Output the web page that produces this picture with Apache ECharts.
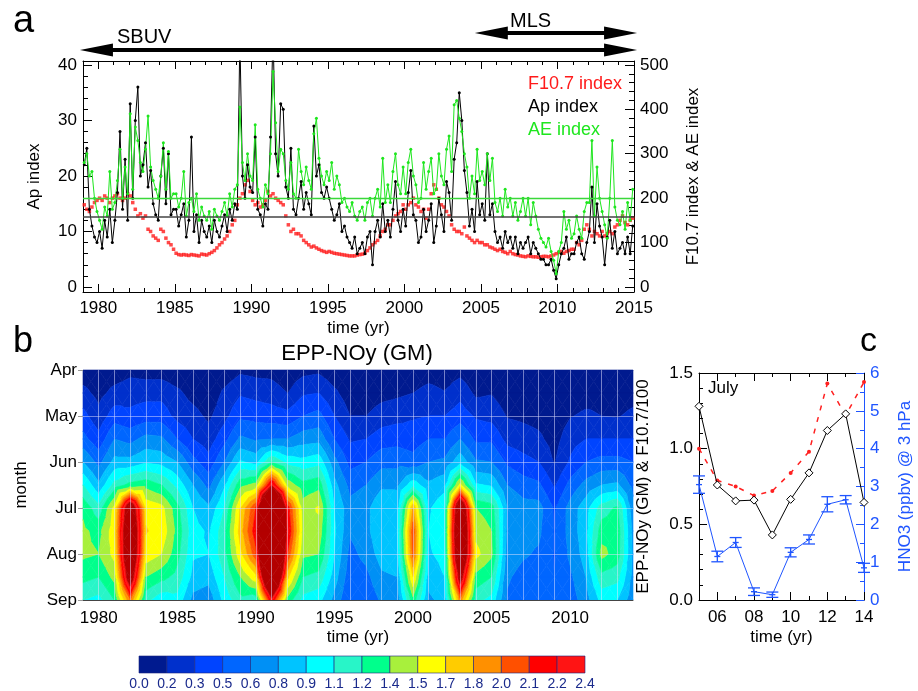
<!DOCTYPE html>
<html>
<head>
<meta charset="utf-8">
<script src="https://cdn.jsdelivr.net/npm/echarts@6/dist/echarts.min.js"></script>
<style>
  html, body { margin: 0; padding: 0; background: #fff; }
  #chart { width: 918px; height: 691px; }
</style>
</head>
<body>
<div id="chart"></div>
<script>
var FONT = 'Liberation Sans';
var INK = '#000';
var BLUE = '#1f55ff';

// ---- panel a : solar / geomagnetic indices, 6 values per year ----
var years = [1979, 1980, 1981, 1982, 1983, 1984, 1985, 1986, 1987, 1988, 1989, 1990,
  1991, 1992, 1993, 1994, 1995, 1996, 1997, 1998, 1999, 2000, 2001, 2002,
  2003, 2004, 2005, 2006, 2007, 2008, 2009, 2010, 2011, 2012, 2013, 2014];

var apIndex = [
  [22, 25, 14, 11, 9, 8], [10, 7, 12, 9, 14, 8], [12, 17, 28, 14, 23, 12], [33, 16, 30, 36, 20, 22],
  [26, 18, 21, 15, 13, 12], [20, 25, 15, 24, 13, 14], [14, 11, 13, 15, 9, 12], [27, 10, 13, 8, 12, 10],
  [9, 11, 8, 12, 10, 9], [11, 13, 10, 14, 12, 15], [14, 45, 20, 16, 22, 18], [17, 27, 14, 13, 11, 15],
  [14, 27, 46, 24, 20, 33], [32, 18, 16, 25, 14, 13], [16, 19, 14, 17, 15, 13], [29, 20, 22, 17, 16, 18],
  [16, 14, 12, 13, 15, 10], [11, 9, 8, 7, 9, 6], [7, 8, 6, 9, 10, 4], [10, 12, 9, 15, 10, 12],
  [9, 14, 19, 12, 10, 14], [11, 17, 21, 13, 12, 8], [9, 14, 10, 12, 15, 8], [11, 16, 13, 10, 19, 17],
  [12, 23, 26, 35, 30, 21], [17, 11, 14, 10, 19, 13], [15, 12, 24, 13, 15, 10], [8, 9, 7, 10, 8, 9],
  [7, 9, 6, 8, 7, 8], [9, 6, 8, 7, 6, 5], [5, 4, 4, 5, 3, 1.5], [4, 6, 7, 9, 5, 6],
  [6, 8, 9, 6, 5, 8], [10, 18, 8, 15, 11, 9], [4, 9, 12, 7, 10, 6], [7, 8, 6, 9, 6, 11]
];

var aeIndex = [
  [280, 300, 250, 260, 200, 170], [150, 130, 180, 160, 260, 175], [190, 240, 310, 200, 270, 210], [390, 220, 360, 330, 280, 260],
  [310, 385, 270, 240, 220, 200], [250, 325, 220, 305, 200, 210], [210, 180, 200, 260, 160, 190], [200, 170, 210, 150, 180, 160],
  [150, 170, 130, 175, 160, 150], [170, 190, 160, 210, 180, 220], [230, 405, 280, 240, 300, 250], [240, 365, 220, 200, 180, 230],
  [210, 300, 485, 370, 260, 310], [300, 240, 220, 280, 210, 200], [310, 260, 230, 270, 240, 220], [345, 380, 290, 250, 230, 260],
  [240, 280, 220, 250, 230, 190], [200, 180, 170, 190, 160, 150], [170, 180, 150, 190, 200, 160], [200, 220, 180, 290, 190, 230],
  [190, 260, 300, 230, 210, 270], [210, 280, 310, 250, 230, 190], [200, 280, 220, 260, 290, 210], [220, 300, 250, 230, 310, 340],
  [260, 410, 420, 380, 350, 300], [270, 200, 250, 210, 310, 240], [260, 230, 300, 240, 290, 190], [170, 200, 160, 220, 180, 200],
  [160, 190, 150, 170, 200, 160], [200, 140, 190, 160, 130, 110], [100, 90, 110, 80, 60, 30], [80, 100, 170, 130, 150, 110],
  [120, 160, 130, 110, 170, 190], [190, 330, 160, 270, 200, 170], [140, 110, 200, 330, 180, 150], [140, 170, 130, 190, 150, 220]
];

var f107Index = [
  [185, 175, 170, 180, 190, 195], [200, 195, 205, 200, 190, 200], [205, 210, 200, 195, 200, 210], [205, 190, 175, 160, 165, 155],
  [160, 130, 125, 115, 110, 105], [130, 125, 110, 100, 95, 85], [76, 73, 72, 73, 72, 71], [73, 72, 71, 70, 74, 73],
  [72, 75, 78, 82, 88, 95], [100, 108, 115, 125, 140, 150], [185, 200, 210, 230, 240, 215], [195, 185, 190, 180, 185, 195],
  [215, 205, 210, 200, 195, 190], [185, 160, 140, 125, 130, 120], [120, 115, 105, 100, 95, 90], [92, 88, 85, 82, 80, 78],
  [80, 78, 76, 75, 74, 73], [72, 71, 70, 70, 70, 72], [73, 74, 76, 82, 88, 95], [100, 105, 115, 125, 130, 140],
  [140, 150, 160, 165, 170, 185], [175, 185, 190, 200, 185, 180], [170, 175, 155, 175, 210, 230], [220, 200, 185, 180, 170, 160],
  [140, 130, 125, 125, 120, 135], [115, 110, 105, 100, 105, 100], [100, 95, 95, 90, 88, 85], [82, 85, 80, 78, 75, 80],
  [75, 73, 72, 70, 69, 68], [70, 69, 68, 68, 67, 68], [69, 69, 68, 70, 72, 75], [78, 80, 76, 80, 82, 85],
  [85, 100, 95, 105, 130, 140], [130, 115, 125, 120, 115, 125], [115, 120, 125, 120, 135, 140], [150, 160, 145, 140, 150, 155]
];

var apMean = 12.6;
var aeMean = 200;
var sbuvSpan = [1978.8, 2015.2];
var mlsSpan = [2004.6, 2015.2];

// ---- panel b : EPP-NOy, one row per year, Apr..Sep every half month ----
var monthPos = [4, 4.5, 5, 5.5, 6, 6.5, 7, 7.5, 8, 8.5, 9];
var monthNames = ['Apr', 'May', 'Jun', 'Jul', 'Aug', 'Sep'];
var eppGrid = [
  [0.05, 0.2, 0.35, 0.5, 0.75, 1.05, 1.32, 1.38, 1.38, 1.25, 1.05],
  [0.03, 0.1, 0.2, 0.35, 0.55, 0.78, 1.1, 1.3, 1.35, 1.2, 1.0],
  [0.05, 0.2, 0.38, 0.6, 0.8, 1.1, 1.55, 1.6, 1.55, 1.4, 1.2],
  [0.1, 0.25, 0.33, 0.55, 0.8, 1.25, 2.8, 3.0, 3.0, 2.7, 1.95],
  [0.08, 0.25, 0.38, 0.65, 0.88, 1.3, 1.62, 1.66, 1.6, 1.35, 1.1],
  [0.08, 0.25, 0.38, 0.63, 0.85, 1.2, 1.55, 1.6, 1.5, 1.25, 0.95],
  [0.05, 0.18, 0.25, 0.45, 0.75, 1.0, 1.25, 1.3, 1.25, 1.15, 1.0],
  [0.03, 0.1, 0.2, 0.3, 0.5, 0.75, 0.9, 0.95, 0.92, 0.85, 0.7],
  [0.02, 0.05, 0.12, 0.22, 0.35, 0.55, 0.78, 0.88, 0.9, 0.8, 0.65],
  [0.05, 0.18, 0.25, 0.4, 0.6, 0.88, 1.05, 1.15, 1.15, 1.05, 0.95],
  [0.12, 0.28, 0.42, 0.63, 0.92, 1.3, 1.65, 1.72, 1.6, 1.35, 1.15],
  [0.1, 0.25, 0.4, 0.58, 0.85, 1.4, 2.1, 2.2, 2.05, 1.6, 1.1],
  [0.1, 0.22, 0.38, 0.6, 1.2, 2.35, 4.5, 4.6, 4.4, 3.6, 2.3],
  [0.05, 0.15, 0.35, 0.6, 1.0, 1.45, 2.2, 2.3, 2.1, 1.7, 1.3],
  [0.1, 0.28, 0.45, 0.68, 0.95, 1.25, 1.42, 1.45, 1.38, 1.2, 1.0],
  [0.12, 0.3, 0.5, 0.7, 1.0, 1.3, 1.52, 1.45, 1.35, 1.15, 0.95],
  [0.05, 0.18, 0.3, 0.45, 0.65, 0.8, 0.9, 0.92, 0.9, 0.82, 0.7],
  [0.02, 0.07, 0.15, 0.28, 0.4, 0.55, 0.65, 0.62, 0.55, 0.5, 0.45],
  [0.02, 0.06, 0.15, 0.3, 0.45, 0.6, 0.7, 0.7, 0.65, 0.55, 0.5],
  [0.03, 0.1, 0.22, 0.38, 0.55, 0.72, 0.88, 0.88, 0.82, 0.72, 0.62],
  [0.04, 0.12, 0.25, 0.4, 0.55, 0.72, 0.85, 0.88, 0.85, 0.75, 0.65],
  [0.05, 0.15, 0.28, 0.38, 0.5, 1.0, 1.8, 2.05, 2.0, 1.65, 1.3],
  [0.08, 0.2, 0.3, 0.45, 0.6, 0.78, 0.88, 0.9, 0.88, 0.8, 0.72],
  [0.06, 0.16, 0.3, 0.45, 0.63, 0.85, 1.0, 1.0, 0.95, 0.9, 0.8],
  [0.1, 0.25, 0.38, 0.6, 0.85, 1.55, 3.0, 3.2, 3.1, 2.6, 1.9],
  [0.03, 0.12, 0.28, 0.42, 0.62, 0.92, 1.35, 1.45, 1.55, 1.3, 1.1],
  [0.05, 0.14, 0.25, 0.42, 0.6, 0.88, 1.28, 1.35, 1.38, 1.2, 1.0],
  [0.02, 0.07, 0.14, 0.25, 0.42, 0.6, 0.75, 0.72, 0.68, 0.62, 0.58],
  [0.02, 0.06, 0.12, 0.22, 0.35, 0.52, 0.66, 0.65, 0.62, 0.55, 0.5],
  [0.01, 0.05, 0.1, 0.18, 0.3, 0.48, 0.66, 0.63, 0.58, 0.52, 0.48],
  [0.01, 0.03, 0.05, 0.09, 0.14, 0.28, 0.43, 0.44, 0.44, 0.45, 0.45],
  [0.02, 0.06, 0.14, 0.24, 0.32, 0.5, 0.66, 0.66, 0.63, 0.57, 0.52],
  [0.03, 0.08, 0.18, 0.3, 0.45, 0.65, 0.84, 0.85, 0.82, 0.75, 0.68],
  [0.02, 0.1, 0.15, 0.3, 0.5, 0.75, 1.12, 1.28, 1.4, 1.15, 0.95],
  [0.03, 0.08, 0.14, 0.3, 0.5, 0.78, 1.23, 1.3, 1.28, 1.1, 0.9],
  [0.03, 0.1, 0.18, 0.3, 0.45, 0.55, 0.65, 0.7, 0.72, 0.7, 0.65]
];

var levelEdges = [0, 0.15, 0.3, 0.45, 0.6, 0.75, 0.9, 1.05, 1.2, 1.35, 1.5, 1.65, 1.8, 1.95, 2.1, 2.25, 2.4];
var levelLabels = ['0.0', '0.2', '0.3', '0.5', '0.6', '0.8', '0.9', '1.1', '1.2', '1.4', '1.5', '1.7', '1.8', '2.0', '2.1', '2.2', '2.4'];
var levelColors = ['#001a8f', '#0030cc', '#0044ff', '#0066ff', '#0090f5', '#00c4ff', '#00ffff', '#28f5c8',
  '#00ff8c', '#a8f03c', '#ffff00', '#ffcc00', '#ff9000', '#ff5000', '#ff0000', '#ff1414'];
var overColor = '#b30000';

// ---- panel c : July values ----
var cYears = [2005, 2006, 2007, 2008, 2009, 2010, 2011, 2012, 2013, 2014];
var eppJuly = [1.28, 0.76, 0.655, 0.66, 0.43, 0.665, 0.84, 1.12, 1.23, 0.645];
var f107July = [1.0, 0.79, 0.75, 0.69, 0.72, 0.84, 0.98, 1.43, 1.22, 1.44];
var hno3 = [3.05, 1.15, 1.52, 0.22, 0.14, 1.26, 1.6, 2.53, 2.65, 0.85];
var hno3Err = [0.23, 0.14, 0.13, 0.1, 0.07, 0.12, 0.12, 0.2, 0.11, 0.12];

// tick positions
function ticks(from, to, step) {
  var out = [];
  for (var v = from; v <= to + 1e-9; v += step) out.push(Math.round(v * 1000) / 1000);
  return out;
}

function toSeries(rows) {
  var out = [];
  rows.forEach(function (row, i) {
    row.forEach(function (v, k) {
      out.push([years[i] + (k + 0.5) / 6, v]);
    });
  });
  return out;
}

function pairs(xs, ys) {
  return xs.map(function (x, i) { return [x, ys[i]]; });
}

// one item per grid cell: corners + the four values read at them
var eppCells = [];
for (var i = 0; i < years.length - 1; i++) {
  for (var j = 0; j < monthPos.length - 1; j++) {
    eppCells.push([years[i], years[i + 1], monthPos[j], monthPos[j + 1],
      eppGrid[i][j], eppGrid[i + 1][j], eppGrid[i][j + 1], eppGrid[i + 1][j + 1]]);
  }
}

function bandColor(b) {
  return b < levelColors.length ? levelColors[b] : overColor;
}

// keep the part of a polygon above (or below) a contour level
function clipPoly(poly, level, above) {
  var out = [];
  for (var k = 0; k < poly.length; k++) {
    var a = poly[k], b = poly[(k + 1) % poly.length];
    var ina = above ? a[2] >= level : a[2] < level;
    var inb = above ? b[2] >= level : b[2] < level;
    if (ina) out.push(a);
    if (ina !== inb) {
      var t = (level - a[2]) / (b[2] - a[2]);
      out.push([a[0] + t * (b[0] - a[0]), a[1] + t * (b[1] - a[1]), level]);
    }
  }
  return out;
}

// filled contours of one cell
function renderContourCell(params, api) {
  var x0 = api.value(0), x1 = api.value(1), m0 = api.value(2), m1 = api.value(3);
  var c00 = api.coord([x0, m0]), c10 = api.coord([x1, m0]);
  var c01 = api.coord([x0, m1]), c11 = api.coord([x1, m1]);
  var v00 = api.value(4), v10 = api.value(5), v01 = api.value(6), v11 = api.value(7);
  var corners = [[c00[0], c00[1], v00], [c10[0], c10[1], v10], [c11[0], c11[1], v11], [c01[0], c01[1], v01]];
  var centre = [(c00[0] + c11[0]) / 2, (c00[1] + c11[1]) / 2, (v00 + v10 + v01 + v11) / 4];
  var children = [];
  for (var k = 0; k < 4; k++) {
    var tri = [corners[k], corners[(k + 1) % 4], centre];
    for (var b = 0; b <= levelColors.length; b++) {
      var poly = tri;
      if (b > 0) poly = clipPoly(poly, levelEdges[b], true);
      if (poly.length >= 3 && b + 1 < levelEdges.length) poly = clipPoly(poly, levelEdges[b + 1], false);
      if (poly.length < 3) continue;
      var col = bandColor(b);
      children.push({
        type: 'polygon',
        shape: { points: poly.map(function (p) { return [p[0], p[1]]; }) },
        style: { fill: col, stroke: col, lineWidth: 0.6 }
      });
    }
  }
  return { type: 'group', children: children };
}

// colour bar swatch
function renderSwatch(params, api) {
  var i = api.value(0);
  var p0 = api.coord([i, 1]);
  var p1 = api.coord([i + 1, 0]);
  return {
    type: 'rect',
    shape: { x: p0[0], y: p0[1], width: p1[0] - p0[0], height: p1[1] - p0[1] },
    style: { fill: levelColors[i], stroke: '#1a237e', lineWidth: 0.6 }
  };
}

// HNO3 error bar
function renderErrBar(params, api) {
  var x = api.value(0), v = api.value(1), e = api.value(2);
  var top = api.coord([x, v + e]);
  var bot = api.coord([x, v - e]);
  var mid = api.coord([x, v]);
  var st = { stroke: BLUE, lineWidth: 1.3 };
  return {
    type: 'group',
    children: [
      { type: 'line', shape: { x1: top[0], y1: top[1], x2: bot[0], y2: bot[1] }, style: st },
      { type: 'line', shape: { x1: top[0] - 6, y1: top[1], x2: top[0] + 6, y2: top[1] }, style: st },
      { type: 'line', shape: { x1: bot[0] - 6, y1: bot[1], x2: bot[0] + 6, y2: bot[1] }, style: st },
      { type: 'line', shape: { x1: mid[0] - 3, y1: mid[1], x2: mid[0] + 3, y2: mid[1] }, style: st }
    ]
  };
}

function axis(o) {
  return echarts.util.merge({
    type: 'value',
    axisLine: { show: false, onZero: false, lineStyle: { color: INK, width: 1 } },
    axisTick: { show: false, inside: true, lineStyle: { color: INK, width: 1 } },
    axisLabel: { show: false, fontFamily: FONT, fontSize: 17, color: INK },
    splitLine: { show: false },
    nameLocation: 'middle',
    nameTextStyle: { fontFamily: FONT, fontSize: 17, color: INK }
  }, o, true);
}

function plain(v) { return String(v); }

var tickA = ticks(1980, 2015, 5);
var tickC = ticks(2006, 2014, 2);
var gridSplit = { show: true, showMinLine: false, showMaxLine: false, lineStyle: { color: 'rgba(225,225,255,0.5)', width: 1 } };

var option = {
  animation: false,
  backgroundColor: '#fff',
  textStyle: { fontFamily: FONT },
  grid: [
    { left: 83, top: 61, width: 551, height: 231, outerBoundsMode: 'none' },
    { left: 83, top: 370, width: 550, height: 230, outerBoundsMode: 'none' },
    { left: 699, top: 373, width: 165, height: 227, outerBoundsMode: 'none' },
    { left: 139, top: 656, width: 446, height: 17, outerBoundsMode: 'none' }
  ],
  xAxis: [
    axis({ gridIndex: 0, position: 'bottom', min: 1979, max: 2015, axisLine: { show: true },
      axisTick: { show: true, length: 8, customValues: tickA },
      axisLabel: { show: true, margin: 8, customValues: tickA, formatter: plain },
      name: 'time (yr)', nameGap: 28 }),
    axis({ gridIndex: 0, position: 'bottom', min: 1979, max: 2015,
      axisTick: { show: true, length: 4, customValues: ticks(1979, 2015, 1) } }),
    axis({ gridIndex: 0, position: 'top', min: 1979, max: 2015, axisLine: { show: true },
      axisTick: { show: true, length: 8, customValues: tickA } }),
    axis({ gridIndex: 0, position: 'top', min: 1979, max: 2015,
      axisTick: { show: true, length: 4, customValues: ticks(1979, 2015, 1) } }),
    axis({ gridIndex: 1, position: 'bottom', min: 1979, max: 2014, interval: 1, z: 5,
      axisLine: { show: true, lineStyle: { color: '#444' } },
      axisLabel: { show: true, margin: 10, formatter: function (v) { return v % 5 === 0 ? String(v) : ''; } },
      splitLine: gridSplit, name: 'time (yr)', nameGap: 29 }),
    axis({ gridIndex: 2, position: 'bottom', min: 2005, max: 2014, axisLine: { show: true },
      axisTick: { show: true, length: 8, customValues: tickC },
      axisLabel: { show: true, margin: 9, customValues: tickC, formatter: function (v) { return String(v).slice(2); } },
      name: 'time (yr)', nameGap: 29 }),
    axis({ gridIndex: 2, position: 'bottom', min: 2005, max: 2014,
      axisTick: { show: true, length: 4, customValues: ticks(2005, 2014, 1) } }),
    axis({ gridIndex: 2, position: 'top', min: 2005, max: 2014, axisLine: { show: true },
      axisTick: { show: true, length: 8, customValues: tickC } }),
    axis({ gridIndex: 2, position: 'top', min: 2005, max: 2014,
      axisTick: { show: true, length: 4, customValues: ticks(2005, 2014, 1) } }),
    axis({ gridIndex: 3, position: 'bottom', min: 0, max: 16,
      axisLabel: { show: true, margin: 4, fontSize: 14, color: '#1a2a8c', customValues: ticks(0, 16, 1),
        formatter: function (v) { return levelLabels[Math.round(v)]; } } })
  ],
  yAxis: [
    axis({ gridIndex: 0, position: 'left', min: -0.9, max: 40.7, axisLine: { show: true },
      axisTick: { show: true, length: 9, customValues: ticks(0, 40, 10) },
      axisLabel: { show: true, margin: 6, customValues: ticks(0, 40, 10), formatter: plain },
      name: 'Ap index', nameGap: 40, nameRotate: 90 }),
    axis({ gridIndex: 0, position: 'left', min: -0.9, max: 40.7,
      axisTick: { show: true, length: 5, customValues: ticks(0, 40, 2) } }),
    axis({ gridIndex: 0, position: 'right', min: -11.25, max: 508.75, axisLine: { show: true },
      axisTick: { show: true, length: 9, customValues: ticks(0, 500, 100) },
      axisLabel: { show: true, margin: 6, customValues: ticks(0, 500, 100), formatter: plain },
      name: 'F10.7 index & AE index', nameGap: 51, nameRotate: 90 }),
    axis({ gridIndex: 0, position: 'right', min: -11.25, max: 508.75,
      axisTick: { show: true, length: 5, customValues: ticks(0, 500, 20) } }),
    axis({ gridIndex: 1, position: 'left', min: 4, max: 9, interval: 1, inverse: true, z: 5,
      axisTick: { show: true, inside: false, length: 5, lineStyle: { color: '#999' } },
      axisLabel: { show: true, margin: 6, formatter: function (v) { return monthNames[v - 4]; } },
      splitLine: gridSplit, name: 'month', nameGap: 53, nameRotate: 90 }),
    axis({ gridIndex: 2, position: 'left', min: 0, max: 1.5, interval: 0.5, axisLine: { show: true },
      axisTick: { show: true, length: 8 },
      axisLabel: { show: true, margin: 6, formatter: function (v) { return v.toFixed(1); } },
      name: 'EPP-NOy (GM) & F10.7/100', nameGap: 47, nameRotate: 90 }),
    axis({ gridIndex: 2, position: 'left', min: 0, max: 1.5, interval: 0.1,
      axisTick: { show: true, length: 4 } }),
    axis({ gridIndex: 2, position: 'right', min: 0, max: 6, interval: 1,
      axisLine: { show: true, lineStyle: { color: BLUE } },
      axisTick: { show: true, length: 8, lineStyle: { color: BLUE } },
      axisLabel: { show: true, margin: 6, color: BLUE },
      name: 'HNO3 (ppbv) @ 3 hPa', nameGap: 33, nameRotate: 90, nameTextStyle: { color: BLUE } }),
    axis({ gridIndex: 2, position: 'right', min: 0, max: 6, interval: 0.5,
      axisTick: { show: true, length: 4, lineStyle: { color: BLUE } } }),
    axis({ gridIndex: 3, position: 'left', min: 0, max: 1 })
  ],
  series: [
    {
      type: 'line', name: 'Ap index', xAxisIndex: 0, yAxisIndex: 0, data: toSeries(apIndex),
      symbol: 'circle', symbolSize: 3, lineStyle: { color: '#000', width: 1 }, itemStyle: { color: '#000' },
      markLine: { symbol: 'none', silent: true, label: { show: false },
        lineStyle: { color: '#444', width: 1.5, type: 'solid' }, data: [{ yAxis: apMean }] }
    },
    {
      type: 'line', name: 'AE index', xAxisIndex: 0, yAxisIndex: 2, data: toSeries(aeIndex),
      symbol: 'circle', symbolSize: 3, lineStyle: { color: '#1ee61e', width: 1 }, itemStyle: { color: '#1ee61e' },
      markLine: { symbol: 'none', silent: true, label: { show: false },
        lineStyle: { color: '#3ad83a', width: 1.3, type: 'solid' }, data: [{ yAxis: aeMean }] }
    },
    {
      type: 'scatter', name: 'F10.7 index', xAxisIndex: 0, yAxisIndex: 2, data: toSeries(f107Index),
      symbol: 'rect', symbolSize: 3.5, itemStyle: { color: '#ff1a1a' }
    },
    {
      type: 'custom', name: 'EPP-NOy', xAxisIndex: 4, yAxisIndex: 4, data: eppCells,
      encode: { x: [0, 1], y: [2, 3] }, renderItem: renderContourCell, z: 1
    },
    {
      type: 'custom', name: 'colour bar', xAxisIndex: 9, yAxisIndex: 9,
      data: levelColors.map(function (c, i) { return [i]; }),
      encode: { x: 0 }, renderItem: renderSwatch
    },
    {
      type: 'line', name: 'EPP-NOy July', xAxisIndex: 5, yAxisIndex: 5, data: pairs(cYears, eppJuly),
      symbol: 'diamond', symbolSize: 8, lineStyle: { color: '#000', width: 1 },
      itemStyle: { color: '#fff', borderColor: '#000', borderWidth: 1 }, z: 4
    },
    {
      type: 'line', name: 'F10.7/100', xAxisIndex: 5, yAxisIndex: 5, data: pairs(cYears, f107July),
      symbol: 'circle', symbolSize: 4, lineStyle: { color: '#ff2020', width: 1.5, type: [5, 7] },
      itemStyle: { color: '#ff2020' }
    },
    {
      type: 'line', name: 'HNO3', xAxisIndex: 5, yAxisIndex: 7, data: pairs(cYears, hno3),
      symbol: 'none', lineStyle: { color: BLUE, width: 1 }
    },
    {
      type: 'custom', name: 'HNO3 error', xAxisIndex: 5, yAxisIndex: 7,
      data: cYears.map(function (y, i) { return [y, hno3[i], hno3Err[i]]; }),
      encode: { x: 0, y: 1 }, renderItem: renderErrBar
    }
  ]
};

var chart = echarts.init(document.getElementById('chart'));
chart.setOption(option);

function label(text, x, y, size, color, align) {
  return {
    type: 'text', x: x, y: y, silent: true,
    style: { text: text, fontFamily: FONT, fontSize: size, fill: color || INK, align: align || 'left', verticalAlign: 'middle' }
  };
}

function arrow(x0, x1, y) {
  var head = 33, half = 6.5;
  return [
    { type: 'line', silent: true, shape: { x1: x0 + head - 2, y1: y, x2: x1 - head + 2, y2: y }, style: { stroke: INK, lineWidth: 4 } },
    { type: 'polygon', silent: true, shape: { points: [[x0, y], [x0 + head, y - half], [x0 + head, y + half]] }, style: { fill: INK } },
    { type: 'polygon', silent: true, shape: { points: [[x1, y], [x1 - head, y - half], [x1 - head, y + half]] }, style: { fill: INK } }
  ];
}

function px(year) {
  return chart.convertToPixel({ xAxisIndex: 0 }, year);
}

var elements = [
  label('a', 13, 22, 38),
  label('b', 13, 342, 36),
  label('c', 860, 342, 34),
  label('SBUV', 117, 37, 20),
  label('MLS', 510, 21, 20),
  label('F10.7 index', 528, 84, 18, '#ff1a1a'),
  label('Ap index', 528, 107, 18),
  label('AE index', 528, 130, 18, '#1ee61e'),
  label('EPP-NOy (GM)', 357, 354, 22, INK, 'center'),
  label('July', 708, 388, 17)
];
elements = elements.concat(arrow(px(sbuvSpan[0]), px(sbuvSpan[1]), 50));
elements = elements.concat(arrow(px(mlsSpan[0]), px(mlsSpan[1]), 33));

chart.setOption({ graphic: elements });
</script>
</body>
</html>
